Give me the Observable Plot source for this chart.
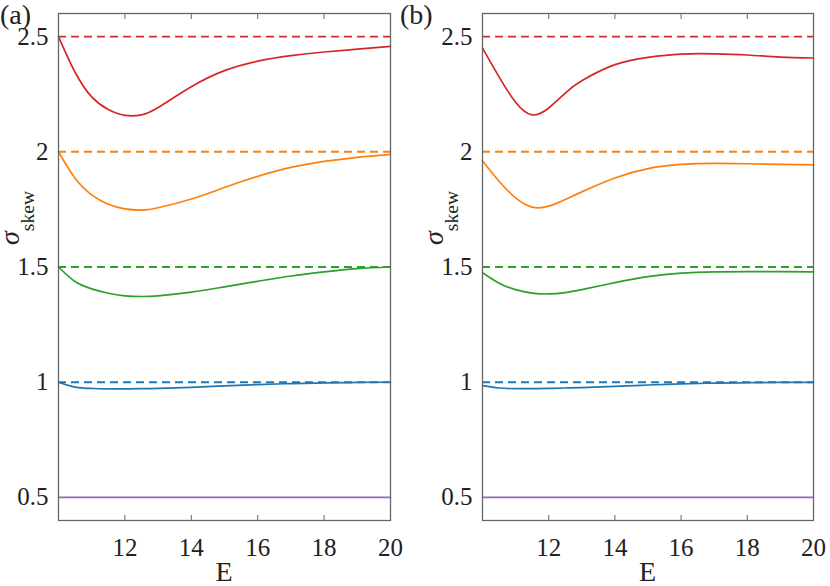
<!DOCTYPE html>
<html><head><meta charset="utf-8">
<script src="https://cdn.jsdelivr.net/npm/d3@7"></script>
<script src="https://cdn.jsdelivr.net/npm/@observablehq/plot@0.6"></script>
<style>
body{margin:0;background:#fff}
#wrap{position:relative;width:830px;height:586px;background:#fff}
#wrap svg{position:absolute;top:0;overflow:visible}
#wrap svg, #wrap svg text, #wrap svg tspan{font-family:"Liberation Serif", "Times New Roman", Times, serif !important}
</style></head><body><div id="wrap"></div>
<script>
const E = [10, 10.5, 11, 11.5, 12, 12.5, 13, 14, 15, 16, 17, 18, 19, 20];
const seriesNames = ["s2.5", "s2", "s1.5", "s1", "s0.5"];
const colors = ["#d62728", "#ff7f0e", "#2ca02c", "#1f77b4", "#9467bd"];
const levels = [2.5, 2, 1.5, 1];
const xTicks = [12, 14, 16, 18, 20];
const yTicks = [0.5, 1, 1.5, 2, 2.5];

// panel (a)
const redA    = [2.5, 2.345, 2.238, 2.183, 2.158, 2.16, 2.192, 2.282, 2.352, 2.393, 2.417, 2.433, 2.445, 2.457];
const orangeA = [2.0, 1.885, 1.813, 1.772, 1.752, 1.747, 1.757, 1.795, 1.845, 1.893, 1.932, 1.958, 1.976, 1.989];
const greenA  = [1.5, 1.437, 1.405, 1.386, 1.375, 1.372, 1.375, 1.391, 1.414, 1.438, 1.461, 1.479, 1.493, 1.5];
const blueA   = [1.0, 0.979, 0.973, 0.971, 0.971, 0.972, 0.973, 0.978, 0.984, 0.990, 0.994, 0.997, 0.999, 1.0];
const purpleA = [0.5, 0.5, 0.5, 0.5, 0.5, 0.5, 0.5, 0.5, 0.5, 0.5, 0.5, 0.5, 0.5, 0.5];

// panel (b)
const redB    = [2.45, 2.325, 2.215, 2.16, 2.19, 2.255, 2.308, 2.378, 2.41, 2.424, 2.425, 2.42, 2.411, 2.407];
const orangeB = [1.96, 1.872, 1.8, 1.76, 1.764, 1.793, 1.826, 1.886, 1.927, 1.945, 1.95, 1.948, 1.945, 1.943];
const greenB  = [1.475, 1.43, 1.402, 1.387, 1.383, 1.389, 1.402, 1.432, 1.458, 1.473, 1.479, 1.48, 1.48, 1.479];
const blueB   = [0.985, 0.975, 0.972, 0.972, 0.973, 0.975, 0.977, 0.982, 0.988, 0.993, 0.996, 0.998, 0.999, 0.999];
const purpleB = [0.5, 0.5, 0.5, 0.5, 0.5, 0.5, 0.5, 0.5, 0.5, 0.5, 0.5, 0.5, 0.5, 0.5];

const FONT = "Liberation Serif, Times New Roman, serif";
const TXT = "#222";

function panel(left, width, mL, mR, vals, tag, bg) {
  const rows = [];
  seriesNames.forEach((s, i) => E.forEach((e, j) => rows.push({E: e, value: vals[i][j], series: s})));
  const refs = levels.map((v, i) => ({v, s: seriesNames[i]}));
  const chart = Plot.plot({
    width, height: 586, marginLeft: mL, marginRight: mR, marginTop: 13, marginBottom: 66,
    style: {fontSize: "25px", color: TXT, background: bg, overflow: "visible"},
    x: {domain: [10, 20]},
    y: {domain: [0.4, 2.6]},
    color: {domain: seriesNames, range: colors},
    marks: [
      Plot.ruleY(refs, {y: "v", stroke: "s", strokeWidth: 1.8, strokeDasharray: "8,5"}),
      Plot.line(rows, {x: "E", y: "value", stroke: "series", z: "series", curve: "natural", strokeWidth: 1.7}),
      Plot.axisX(xTicks, {tickSize: -5, fill: "none", label: null, stroke: "#666"}),
      Plot.axisX(xTicks, {anchor: "top", tickSize: -5, fill: "none", label: null, stroke: "#666"}),
      Plot.axisX(xTicks, {tickSize: 0, tickPadding: 18, tickFormat: d => String(d), label: null, fill: TXT, fontSize: 25}),
      Plot.axisY(yTicks, {tickSize: 0, tickPadding: 10, tickFormat: d => String(d), label: null, fill: TXT, fontSize: 25}),
      Plot.frame({stroke: "#666", strokeWidth: 1.3})
    ]
  });
  chart.style.left = left + "px";
  chart.setAttribute("font-family", FONT);
  const svg = d3.select(chart);
  svg.append("text").attr("x", 0).attr("y", 24).attr("text-anchor", "start")
    .attr("font-size", 28).attr("fill", TXT).text(tag);
  const cx = mL + (width - mL - mR) / 2;
  svg.append("text").attr("x", cx).attr("y", 581).attr("text-anchor", "middle")
    .attr("font-size", 28).attr("fill", TXT).text("E");
  const yl = svg.append("text")
    .attr("transform", `translate(${mL - 39},218) rotate(-90)`)
    .attr("text-anchor", "middle")
    .attr("font-size", 28).attr("fill", TXT);
  yl.append("tspan").attr("font-style", "italic").text("σ");
  yl.append("tspan").attr("dy", 15).attr("font-size", 19.6).text("skew");
  svg.selectAll("text").attr("font-family", FONT);
  document.getElementById("wrap").appendChild(chart);
}

panel(0, 400, 58, 10, [redA, orangeA, greenA, blueA, purpleA], "(a)", "white");
panel(400, 430, 82, 17, [redB, orangeB, greenB, blueB, purpleB], "(b)", "transparent");
</script>
</body></html>
